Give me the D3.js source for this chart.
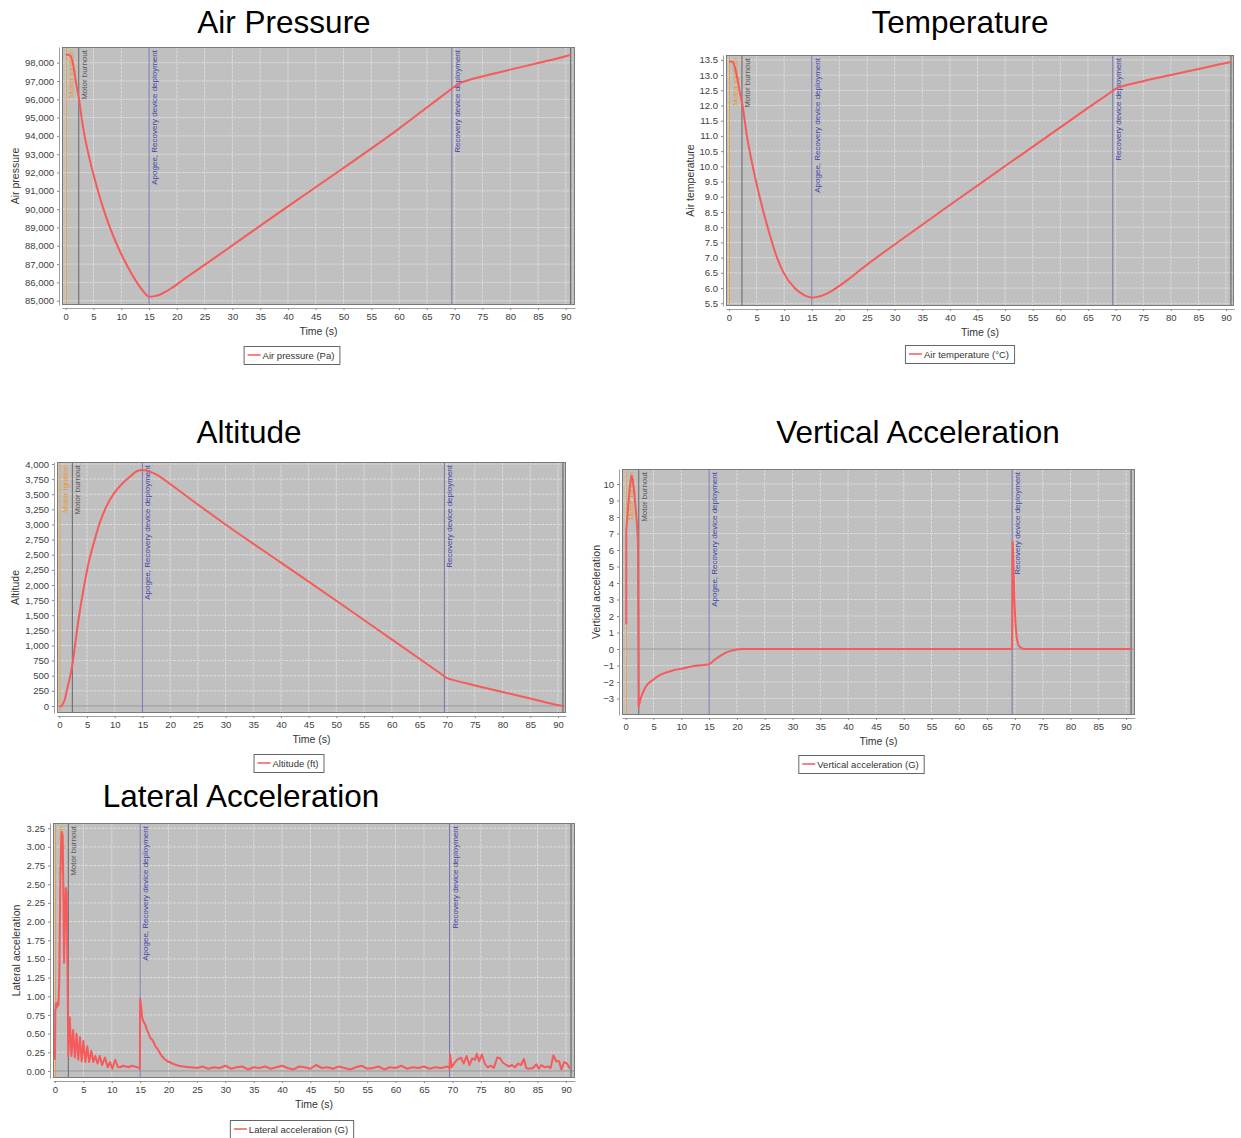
<!DOCTYPE html>
<html>
<head>
<meta charset="utf-8">
<script src="https://cdn.jsdelivr.net/npm/d3@7"></script>
<style>
  body { margin: 0; background: #fff; }
  svg { display: block; font-family: "Liberation Sans", Arial, sans-serif; }
</style>
</head>
<body>
<svg id="chart" width="1241" height="1138"></svg>
<script>
// ---- shared data ----
const timeTicks = [0, 5, 10, 15, 20, 25, 30, 35, 40, 45, 50, 55, 60, 65, 70, 75, 80, 85, 90];
const eventNames = ['Motor ignition', 'Motor burnout', 'Apogee, Recovery device deployment', 'Recovery device deployment', 'Ground hit'];
const eventTimes = [0.1, 2.35, 15.0, 69.5, 90.9];

// ---- air pressure (Pa) ----
const pressureTime = [0, 0.5, 1, 1.4, 1.8, 2.1, 2.4, 2.85, 3.4, 4.1, 4.9, 5.8, 6.8, 7.95, 9.3, 10.9, 12.8, 14, 15, 16, 17, 18, 19, 20, 22, 25, 30, 40, 50, 60, 65, 69, 70, 70.5, 71, 72, 75, 80, 85, 90, 90.9];
const pressureValues = [98450, 98440, 98300, 97800, 97000, 96500, 96000, 95000, 94000, 93000, 92000, 91000, 90000, 89000, 88000, 87000, 86000, 85500, 85220, 85250, 85340, 85490, 85680, 85890, 86330, 86960, 88020, 90150, 92250, 94400, 95550, 96470, 96700, 96820, 96900, 97000, 97250, 97620, 97980, 98350, 98430];
const pressureTicks = [85000, 86000, 87000, 88000, 89000, 90000, 91000, 92000, 93000, 94000, 95000, 96000, 97000, 98000];

// ---- air temperature (°C) ----
const temperatureTime = [0, 0.5, 1, 1.5, 2, 2.45, 3.25, 4.3, 5.55, 7.0, 8.7, 9.9, 11.9, 13.3, 15, 16, 17, 18, 19, 20, 22, 25, 30, 40, 50, 60, 65, 69, 70, 70.5, 71, 75, 80, 85, 90, 90.9];
const temperatureValues = [13.45, 13.45, 13.3, 12.9, 12.4, 12.0, 11.0, 10.0, 9.0, 8.0, 7.0, 6.5, 6.0, 5.8, 5.69, 5.71, 5.76, 5.84, 5.95, 6.07, 6.34, 6.77, 7.43, 8.73, 10.01, 11.28, 11.92, 12.42, 12.55, 12.59, 12.62, 12.8, 13.0, 13.2, 13.4, 13.43];
const temperatureTicks = [5.5, 6.0, 6.5, 7.0, 7.5, 8.0, 8.5, 9.0, 9.5, 10.0, 10.5, 11.0, 11.5, 12.0, 12.5, 13.0, 13.5];

// ---- altitude (ft) ----
const altitudeTime = [0, 0.3, 0.6, 1, 1.33, 1.7, 2.05, 2.4, 2.83, 3.5, 4.5, 5.5, 6.3, 7.2, 8.5, 10, 11, 12.5, 14, 15, 16, 17, 18, 20, 25, 30, 40, 50, 60, 65, 69, 70, 70.5, 71, 75, 80, 85, 90, 90.9];
const altitudeValues = [-15, -5, 30, 110, 250, 390, 530, 710, 1000, 1450, 2000, 2450, 2720, 3000, 3300, 3530, 3640, 3770, 3880, 3900, 3885, 3850, 3800, 3670, 3330, 3000, 2370, 1740, 1100, 780, 524, 460, 446, 432, 340, 230, 125, 15, 0];
const altitudeTicks = [0, 250, 500, 750, 1000, 1250, 1500, 1750, 2000, 2250, 2500, 2750, 3000, 3250, 3500, 3750, 4000];

// ---- vertical acceleration (G) ----
const verticalTime = [0.1, 0.1, 0.3, 0.5, 0.7, 0.9, 1.05, 1.25, 1.5, 1.8, 2.05, 2.2, 2.32, 2.6, 3, 3.5, 4, 5, 6, 7, 8, 9, 10, 11, 12, 13, 14, 15, 15.5, 16, 17, 18, 19, 20, 21, 22, 69.5, 69.6, 69.75, 69.9, 70.1, 70.3, 70.6, 71, 71.6, 91];
const verticalValues = [1.5, 7.2, 8.0, 8.9, 9.7, 10.2, 10.5, 10.3, 9.6, 8.5, 7.4, 6.5, -3.5, -3.1, -2.7, -2.35, -2.1, -1.85, -1.6, -1.45, -1.35, -1.25, -1.2, -1.12, -1.05, -1.0, -0.97, -0.93, -0.8, -0.65, -0.42, -0.22, -0.1, -0.03, 0, 0, 0, 6.5, 5.2, 3.0, 1.6, 0.7, 0.25, 0.08, 0, 0];
const verticalTicks = [-3, -2, -1, 0, 1, 2, 3, 4, 5, 6, 7, 8, 9, 10];

// ---- lateral acceleration (G) ----
const lateralTime = [0, 0.05, 0.15, 0.3, 0.45, 0.6, 0.75, 0.95, 1.15, 1.35, 1.5, 1.6, 1.75, 1.9, 2.05, 2.2,
  2.35, 2.6, 2.9, 3.2, 3.5, 3.8, 4.1, 4.4, 4.7, 5.0, 5.35, 5.7, 6.0, 6.4, 6.75, 7.1, 7.5, 7.9, 8.3, 8.8, 9.3, 9.7, 10.1, 10.6, 11.1, 11.5,
  12, 12.5, 13, 13.5, 14, 14.5, 14.95, 15.0, 15.15, 15.35, 15.6, 15.9, 16.2, 16.5, 16.8, 17.1, 17.4, 17.7, 18.0, 18.4, 18.8, 19.3, 19.8, 20.4, 21, 21.8, 22.6, 23.5,
  24, 25, 26, 27, 28, 29, 30, 31, 32, 33, 34, 35, 36, 37, 38, 39, 40, 41, 42, 43, 44, 45, 46, 47, 48, 49, 50, 51, 52, 53, 54, 55, 56, 57, 58, 59, 60, 61, 62, 63, 64, 65, 66, 67, 68, 69.2,
  69.5, 69.6, 69.9, 70.3, 70.8, 71.5, 72, 72.5, 73, 73.5, 74, 74.3, 74.7, 75.2, 75.7, 76.2, 76.8, 77.3, 77.9, 78.4, 78.9, 79.5, 80, 80.5, 81, 81.6, 82.1, 82.6, 83, 83.5, 84.2, 84.8, 85.2, 85.7, 86.2, 86.8, 87.3, 87.8, 88.3, 88.8, 89.2, 89.7, 90.2, 90.7];
const lateralValues = [0.15, 0.8, 0.9, 0.85, 0.92, 0.88, 1.2, 2.6, 3.2, 3.15, 2.3, 1.45, 2.0, 2.45, 2.4, 1.4,
  0.2, 0.72, 0.2, 0.55, 0.18, 0.5, 0.15, 0.45, 0.13, 0.4, 0.12, 0.33, 0.12, 0.27, 0.12, 0.2, 0.1, 0.2, 0.08, 0.18, 0.05, 0.12, 0.03, 0.15, 0.05, 0.05,
  0.07, 0.06, 0.05, 0.07, 0.06, 0.05, 0.03, 0.97, 0.88, 0.72, 0.66, 0.62, 0.55, 0.5, 0.44, 0.42, 0.38, 0.33, 0.3, 0.25, 0.2, 0.16, 0.13, 0.11, 0.09, 0.07, 0.06, 0.05,
  0.05, 0.04, 0.06, 0.03, 0.05, 0.04, 0.07, 0.03, 0.05, 0.06, 0.02, 0.05, 0.04, 0.06, 0.03, 0.05, 0.07, 0.04, 0.02, 0.06, 0.05, 0.03, 0.08, 0.04, 0.05, 0.03, 0.06, 0.04, 0.02, 0.05, 0.07, 0.03, 0.04, 0.06, 0.02, 0.05, 0.04, 0.07, 0.03, 0.05, 0.04, 0.06, 0.03, 0.05, 0.04, 0.06,
  0.03, 0.22, 0.05, 0.1, 0.15, 0.18, 0.1, 0.2, 0.08, 0.17, 0.15, 0.23, 0.13, 0.22, 0.1, 0.05, 0.07, 0.04, 0.18, 0.17, 0.11, 0.08, 0.06, 0.08, 0.05, 0.1, 0.08, 0.16, 0.04, 0.03, 0.04, 0.09, 0.03, 0.08, 0.05, 0.06, 0.04, 0.21, 0.13, 0.13, 0.02, 0.12, 0.1, 0.03];
const lateralTicks = [0, 0.25, 0.5, 0.75, 1.0, 1.25, 1.5, 1.75, 2.0, 2.25, 2.5, 2.75, 3.0, 3.25];

// ---- layout of the five panels ----
const charts = [
  { id: 'p', title: 'Air Pressure', titleX: 284, titleY: 33, yTitle: 'Air pressure', yTitleX: 15, legend: 'Air pressure (Pa)', legendX: 291.5, legendY: 346,
    left: 62, right: 575, top: 47, bottom: 305, xDomain: [-0.67, 91.67], yDomain: [84765, 98857], smooth: true,
    time: pressureTime, values: pressureValues, ticks: pressureTicks, fmt: d3.format(',') },
  { id: 't', title: 'Temperature', titleX: 960, titleY: 33, yTitle: 'Air temperature', yTitleX: 690, legend: 'Air temperature (°C)', legendX: 959.5, legendY: 345,
    left: 726, right: 1234, top: 55, bottom: 306, xDomain: [-0.54, 91.45], yDomain: [5.41, 13.66], smooth: true,
    time: temperatureTime, values: temperatureValues, ticks: temperatureTicks, fmt: d3.format('.1f') },
  { id: 'a', title: 'Altitude', titleX: 249, titleY: 443, yTitle: 'Altitude', yTitleX: 15, legend: 'Altitude (ft)', legendX: 288.5, legendY: 754,
    left: 57, right: 566, top: 462, bottom: 713, xDomain: [-0.42, 91.45], yDomain: [-116, 4033], smooth: true,
    time: altitudeTime, values: altitudeValues, ticks: altitudeTicks, fmt: d3.format(',') },
  { id: 'v', title: 'Vertical Acceleration', titleX: 918, titleY: 443, yTitle: 'Vertical acceleration', yTitleX: 596, legend: 'Vertical acceleration (G)', legendX: 861, legendY: 755,
    left: 622, right: 1135, top: 469, bottom: 715, xDomain: [-0.67, 91.6], yDomain: [-4.0, 10.91], smooth: false,
    time: verticalTime, values: verticalValues, ticks: verticalTicks, fmt: d3.format('d') },
  { id: 'l', title: 'Lateral Acceleration', titleX: 241, titleY: 807, yTitle: 'Lateral acceleration', yTitleX: 16, legend: 'Lateral acceleration (G)', legendX: 291.5, legendY: 1120,
    left: 53, right: 575, top: 823, bottom: 1078, xDomain: [-0.35, 91.6], yDomain: [-0.094, 3.32], smooth: false,
    time: lateralTime, values: lateralValues, ticks: lateralTicks, fmt: d3.format('.2f') }
];

const eventLine = ['#e8a040', '#666666', '#7676b4', '#7676b4', '#5a5a5a'];
const eventText = ['#e89a30', '#555555', '#4444a8', '#4444a8', '#555555'];
const seriesColor = '#f75a5a';

const svg = d3.select('#chart');

function drawChart(c) {
  const x = d3.scaleLinear().domain(c.xDomain).range([c.left, c.right]);
  const y = d3.scaleLinear().domain(c.yDomain).range([c.bottom, c.top]);
  const g = svg.append('g');

  // title
  svg.append('text')
    .attr('x', c.titleX).attr('y', c.titleY)
    .attr('text-anchor', 'middle')
    .attr('font-size', 31.5)
    .attr('fill', '#000')
    .text(c.title);

  // plot background
  g.append('rect')
    .attr('x', c.left).attr('y', c.top)
    .attr('width', c.right - c.left).attr('height', c.bottom - c.top)
    .attr('fill', '#c0c0c0');

  // clip for everything inside the plot
  svg.append('clipPath').attr('id', 'clip-' + c.id)
    .append('rect')
    .attr('x', c.left).attr('y', c.top)
    .attr('width', c.right - c.left).attr('height', c.bottom - c.top);
  const inner = g.append('g').attr('clip-path', `url(#clip-${c.id})`);

  // grid
  inner.selectAll('.gx').data(timeTicks).join('line')
    .attr('x1', d => x(d)).attr('x2', d => x(d))
    .attr('y1', c.top).attr('y2', c.bottom)
    .attr('stroke', '#dadada').attr('stroke-dasharray', '3,1');
  inner.selectAll('.gy').data(c.ticks).join('line')
    .attr('x1', c.left).attr('x2', c.right)
    .attr('y1', d => y(d)).attr('y2', d => y(d))
    .attr('stroke', d => d === 0 ? '#9a9a9a' : '#dadada')
    .attr('stroke-dasharray', d => d === 0 ? null : '3,1');

  // flight events
  eventTimes.forEach((t, i) => {
    inner.append('line')
      .attr('x1', x(t)).attr('x2', x(t))
      .attr('y1', c.top).attr('y2', c.bottom)
      .attr('stroke', eventLine[i]).attr('stroke-width', 1);
    inner.append('text')
      .attr('transform', `translate(${x(t) + 8},${c.top + 3}) rotate(-90)`)
      .attr('text-anchor', 'end')
      .attr('font-size', 8)
      .attr('fill', eventText[i])
      .text(eventNames[i]);
  });

  // series
  const pts = c.time.map((t, i) => [t, c.values[i]]);
  const line = d3.line()
    .defined(d => d[1] != null)
    .x(d => x(d[0])).y(d => y(d[1]))
    .curve(c.smooth ? d3.curveMonotoneX : d3.curveLinear);
  inner.append('path')
    .datum(pts)
    .attr('fill', 'none')
    .attr('stroke', seriesColor)
    .attr('stroke-width', 2)
    .attr('stroke-linejoin', 'round')
    .attr('d', line);

  // plot border
  g.append('rect')
    .attr('x', c.left + 0.5).attr('y', c.top + 0.5)
    .attr('width', c.right - c.left - 1).attr('height', c.bottom - c.top - 1)
    .attr('fill', 'none').attr('stroke', '#7a7a7a');

  // axes
  const xAxis = g.append('g')
    .attr('transform', `translate(0,${c.bottom + 3})`)
    .call(d3.axisBottom(x).tickValues(timeTicks).tickSize(2).tickSizeOuter(0).tickPadding(3));
  const yAxis = g.append('g')
    .attr('transform', `translate(${c.left - 3},0)`)
    .call(d3.axisLeft(y).tickValues(c.ticks).tickFormat(c.fmt).tickSize(2).tickSizeOuter(0).tickPadding(3));
  [xAxis, yAxis].forEach(a => {
    a.select('.domain').attr('stroke', '#a0a0a0');
    a.selectAll('.tick line').attr('stroke', '#888');
    a.selectAll('.tick text').attr('font-size', 9.5).attr('fill', '#404040')
      .attr('font-family', '"Liberation Sans", Arial, sans-serif');
  });

  // axis titles
  g.append('text')
    .attr('x', (c.left + c.right) / 2).attr('y', c.bottom + 30)
    .attr('text-anchor', 'middle').attr('font-size', 10.5).attr('fill', '#333')
    .text('Time (s)');
  g.append('text')
    .attr('transform', `translate(${c.yTitleX + 4},${(c.top + c.bottom) / 2}) rotate(-90)`)
    .attr('text-anchor', 'middle').attr('font-size', 10.5).attr('fill', '#333')
    .text(c.yTitle);

  // legend
  const lg = g.append('g');
  const label = lg.append('text')
    .attr('y', c.legendY + 12.5)
    .attr('font-size', 9.5).attr('fill', '#333')
    .text(c.legend);
  const w = label.node().getComputedTextLength() + 24;
  const x0 = c.legendX - w / 2;
  label.attr('x', x0 + 19);
  lg.insert('rect', 'text')
    .attr('x', x0 + 0.5).attr('y', c.legendY + 0.5)
    .attr('width', w).attr('height', 18)
    .attr('fill', '#fff').attr('stroke', '#666');
  lg.append('line')
    .attr('x1', x0 + 4).attr('x2', x0 + 17)
    .attr('y1', c.legendY + 9).attr('y2', c.legendY + 9)
    .attr('stroke', seriesColor).attr('stroke-width', 1.5);
}

charts.forEach(drawChart);
</script>
</body>
</html>
